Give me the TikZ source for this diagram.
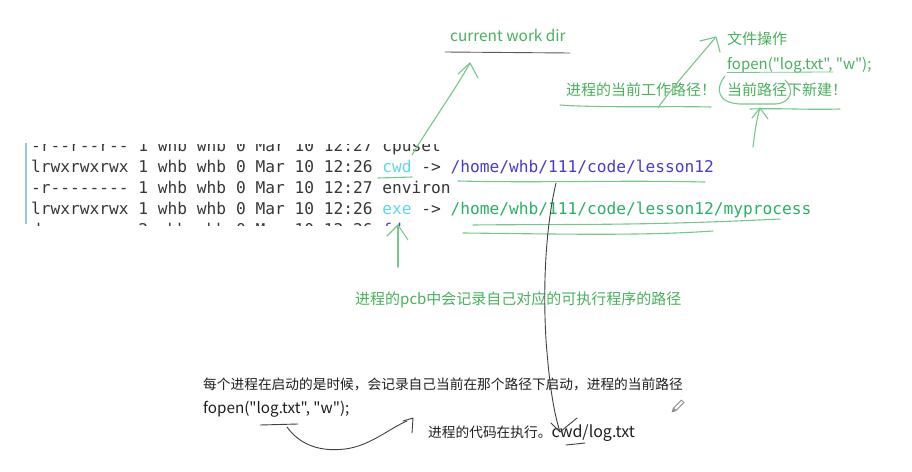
\documentclass[tikz,border=0pt]{standalone}
\usepackage{fontspec}
\setmonofont{DejaVu Sans Mono}
\newfontfamily\cjk{Noto Sans CJK SC}
\definecolor{hand}{RGB}{118,200,138}
\definecolor{gtext}{RGB}{72,178,92}
\definecolor{termc}{RGB}{55,55,55}
\definecolor{cyanw}{RGB}{95,215,235}
\definecolor{pathblue}{RGB}{70,60,210}
\definecolor{pathgreen}{RGB}{40,178,100}
\definecolor{barblue}{RGB}{150,200,220}
\tikzset{
 termrow/.style={anchor=base west, inner sep=0, font=\ttfamily\fontsize{16.2}{18}\selectfont, text=termc},
 note/.style={anchor=base west, inner sep=0, font=\cjk\fontsize{15}{17}\selectfont, text=gtext},
 bnote/.style={anchor=base west, inner sep=0, font=\cjk\fontsize{13.7}{16}\selectfont, text=black!88},
 hand/.style={draw=hand, line width=1.1pt, line cap=round, line join=round},
 pen/.style={draw=black!75, line width=0.9pt, line cap=round, line join=round},
}
\begin{document}
\begin{tikzpicture}[x=1pt,y=-1pt]
\useasboundingbox[fill=white] (0,0) rectangle (912,471);
% terminal
\begin{scope}
\clip (20,144) rectangle (900,225);
\node[termrow] (r1) at (31,151) {-r--r--r-- 1 whb whb 0 Mar 10 12:27 cpuset};
\node[termrow] (r2) at (31,172) {lrwxrwxrwx 1 whb whb 0 Mar 10 12:26 \textcolor{cyanw}{cwd} -> \textcolor{pathblue}{/home/whb/111/code/lesson12}};
\node[termrow] (r3) at (31,193) {-r-------- 1 whb whb 0 Mar 10 12:27 environ};
\node[termrow] (r4) at (31,214) {lrwxrwxrwx 1 whb whb 0 Mar 10 12:26 \textcolor{cyanw}{exe} -> \textcolor{pathgreen}{/home/whb/111/code/lesson12/myprocess}};
\node[termrow] (r5) at (31,235) {dr-x------ 2 whb whb 0 Mar 10 12:26 \textcolor{pathblue}{fd}};
\end{scope}
\draw[barblue, line width=2pt] (26,143) -- (26,224);
% green notes
\node[note] (cwdir) at (450,41) {\fontsize{15.4}{17}\selectfont current work dir};
\node[note] (fileop) at (727,44) {文件操作};
\node[note] (fopen1) at (727,69) {fopen("log.txt", "w");};
\node[note] (curpath) at (566,95.5) {进程的当前工作路径！};
\node[note] (newhere) at (727,95.5) {当前路径下新建！};
\node[note] (pcb) at (355,304.5) {进程的pcb中会记录自己对应的可执行程序的路径};
% black notes
\node[bnote] (start) at (203,389) {每个进程在启动的是时候，会记录自己当前在那个路径下启动，进程的当前路径};
\node[bnote] (fopen2) at (203,413) {\fontsize{15.2}{17}\selectfont fopen("log.txt", "w");};
\node[bnote] (exec) at (428,437) {进程的代码在执行。{\fontsize{16}{17}\selectfont cwd/log.txt}};
% underline current work dir
\draw[draw=black!65, line width=0.9pt] (445,52) -- (570,53);
% arrow to current work dir
\draw[hand] (412,155) .. controls (430,125) and (455,90) .. (470,63);
\draw[hand] (458,74) -- (470,63) -- (478,78);
% underline 进程的当前工作路径
\draw[hand] (560,105) .. controls (600,108) and (670,106) .. (711,107);
% arrow to 文件操作
\draw[hand] (658,108) .. controls (670,90) and (695,62) .. (715,38);
\draw[hand] (700,41) -- (716,37) -- (720,52);
% fopen underline
\draw[hand, line width=0.8pt] (727,72.5) -- (833,72);
% loop around 当前路径
\draw[hand] (725,76) .. controls (715,88) and (717,103) .. (740,104) -- (775,104) .. controls (793,103) and (794,88) .. (785,80);
% underline below 当前路径下新建
\draw[hand] (750,109) .. controls (780,108) and (810,110) .. (840,109);
% arrow up
\draw[hand] (753,147) .. controls (755,130) and (757,118) .. (760,108);
\draw[hand] (752,118) -- (760,108) -- (768,119);
% underlines in terminal
\draw[hand] (378,178) -- (412,177);
\draw[hand] (458,181) .. controls (540,183) and (620,180) .. (705,182);
\draw[hand] (473,225) .. controls (560,224) and (640,226) .. (780,219);
\draw[hand] (463,233) .. controls (560,234) and (640,236) .. (713,231);
% arrow to fd
\draw[hand] (398,267) -- (398,225);
\draw[hand] (387,236) -- (398,225) -- (408,240);
% black long line
\draw[pen] (556,183) .. controls (545,230) and (543,290) .. (546,340) .. controls (549,380) and (553,410) .. (560,432);
\draw[pen] (551,423) -- (560,432) -- (577,418);
\draw[pen] (566,445) -- (585,443);
% bottom curve
\draw[pen] (260,425) -- (298,424);
\draw[pen] (287,427) .. controls (300,445) and (320,452) .. (345,449) .. controls (370,446) and (390,428) .. (407,421);
\draw[pen] (403,421) -- (413,418) -- (412,433);
% pencil icon
\begin{scope}[shift={(678,406)}, rotate=-45]
\fill[black!45] (-2.2,-7) rectangle (2.2,5);
\fill[white] (-1.2,-6) rectangle (1.2,4);
\fill[black!45] (-2.2,5) -- (2.2,5) -- (0,9) -- cycle;
\end{scope}
\end{tikzpicture}
\end{document}
